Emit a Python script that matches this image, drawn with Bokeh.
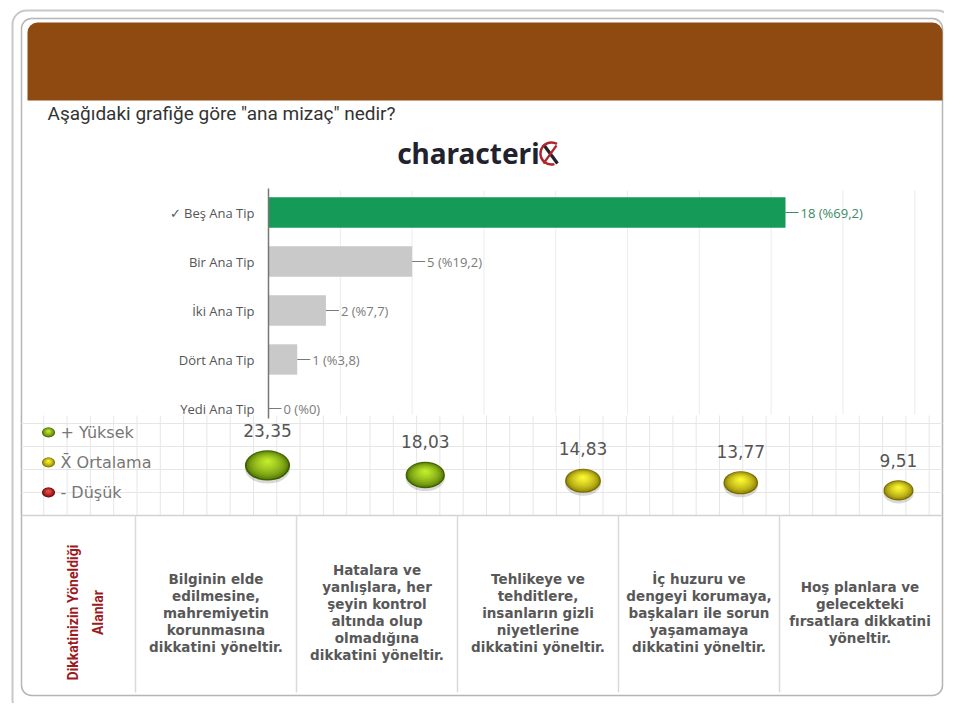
import math
from bokeh.plotting import figure
from bokeh.models import Range1d, BoxAnnotation, ColumnDataSource
from bokeh.embed import file_html
from bokeh.resources import INLINE
from bokeh.core.properties import value

# ---------------- data ----------------
question = 'Aşağıdaki grafiğe göre "ana mizaç" nedir?'
logo_text = "characteri"
bar_categories = ["✓ Beş Ana Tip", "Bir Ana Tip", "İki Ana Tip", "Dört Ana Tip", "Yedi Ana Tip"]
bar_counts = [18, 5, 2, 1, 0]
bar_percents = ["69,2", "19,2", "7,7", "3,8", "0"]
bar_highlight = [True, False, False, False, False]
grid_ticks = [2.5, 5, 7.5, 10, 12.5, 15, 17.5, 20, 22.5]

bubble_values = [23.35, 18.03, 14.83, 13.77, 9.51]
bubble_levels = ["Yüksek", "Yüksek", "Ortalama", "Ortalama", "Ortalama"]
legend_levels = ["Yüksek", "Ortalama", "Düşük"]
legend_labels = ["+ Yüksek", "X\u0304 Ortalama", "- Düşük"]

header_lines = ["Dikkatinizin Yöneldiği", "Alanlar"]
column_texts = [
    ["Bilginin elde", "edilmesine,", "mahremiyetin", "korunmasına", "dikkatini yöneltir."],
    ["Hatalara ve", "yanlışlara, her", "şeyin kontrol", "altında olup", "olmadığına", "dikkatini yöneltir."],
    ["Tehlikeye ve", "tehditlere,", "insanların gizli", "niyetlerine", "dikkatini yöneltir."],
    ["İç huzuru ve", "dengeyi korumaya,", "başkaları ile sorun", "yaşamamaya", "dikkatini yöneltir."],
    ["Hoş planlara ve", "gelecekteki", "fırsatlara dikkatini", "yöneltir."],
]

# ---------------- styles ----------------
level_edge_center = {
    "Yüksek": ("#3f6200", "#c2ec2c"),
    "Ortalama": ("#7a6c00", "#fdf830"),
    "Düşük": ("#6a0000", "#f05050"),
}
BAR_GREEN = "#159a57"
BAR_GRAY = "#c9c9c9"
LABEL_GREEN = "#3b8a64"
LABEL_GRAY = "#7a7a7a"

W, H = 944, 703
X0, X1 = 0, 944
Y_TOP, Y_BOT = 0, 703


def mapped_range(p_a, v_a, p_b, v_b, p_start, p_end):
    k = (v_b - v_a) / (p_b - p_a)
    return Range1d(start=v_a + (p_start - p_a) * k, end=v_a + (p_end - p_a) * k)


def mix(c1, c2, t):
    a = [int(c1[i:i + 2], 16) for i in (1, 3, 5)]
    b = [int(c2[i:i + 2], 16) for i in (1, 3, 5)]
    return "#" + "".join(f"{round(x + (y - x) * t):02x}" for x, y in zip(a, b))


p = figure(width=W, height=H, x_range=Range1d(X0, X1), y_range=Range1d(Y_BOT, Y_TOP),
           x_axis_location=None, y_axis_location=None, toolbar_location=None,
           output_backend="svg", min_border=0, title=None,
           background_fill_color="#ffffff", border_fill_color="#ffffff",
           outline_line_color=None)
p.grid.visible = False
p.extra_x_ranges = {"bars": mapped_range(268, 0, 785, 18, X0, X1),
                    "bub": mapped_range(267, 0, 898, 4, X0, X1)}
p.extra_y_ranges = {"cats": mapped_range(212, 0, 408, 4, Y_BOT, Y_TOP),
                    "bubv": mapped_range(507, 0, 462, 25, Y_BOT, Y_TOP)}
PX_BUBV = 25 / 45.0  # value units per screen pixel in bubble scale

# ---------------- frame decorations ----------------
p.add_layout(BoxAnnotation(left=12, right=951, top=10, bottom=713, fill_color="#ffffff",
                           fill_alpha=1, line_color="#c8c8c8", line_alpha=1, line_width=2,
                           border_radius=14, level="underlay"))
p.add_layout(BoxAnnotation(left=21, right=942, top=18, bottom=695, fill_color=None,
                           fill_alpha=0, line_color="#b5b5b5", line_alpha=1, line_width=1.5,
                           border_radius=10, level="underlay"))
p.add_layout(BoxAnnotation(left=27, right=942, top=22, bottom=100, fill_color="#8f4a11",
                           fill_alpha=1, line_color=None, border_radius=(10, 10, 0, 0),
                           level="underlay"))

# question and logo
p.text(x=[47], y=[113], text=[question], text_font=value("Roboto"), text_font_size="19px",
       text_color="#333333", text_baseline="middle", text_align="left")
p.text(x=[539], y=[152], text=[logo_text], text_font=value("Noto Sans"), text_font_style="bold",
       text_font_size="28px", text_color="#22222e", text_baseline="middle", text_align="right")
p.line(x=[543, 557], y=[144, 163], line_color="#22222e", line_width=3.2)
p.line(x=[543, 556], y=[163, 145], line_color="#b3232a", line_width=2.2)
p.arc(x=[551], y=[153], radius=11, radius_units="screen", start_angle=-1.3, end_angle=1.05,
      direction="clock", line_color="#b3232a", line_width=2.5)

# ---------------- bar chart ----------------
n = len(bar_categories)
bar_src = ColumnDataSource(dict(
    idx=list(range(n)),
    cat=bar_categories,
    count=bar_counts,
    label=[f"{c} (%{pc})" for c, pc in zip(bar_counts, bar_percents)],
    color=[BAR_GREEN if h else BAR_GRAY for h in bar_highlight],
    lcolor=[LABEL_GREEN if h else LABEL_GRAY for h in bar_highlight],
))
p.segment(x0=grid_ticks, x1=grid_ticks, y0=[190] * len(grid_ticks), y1=[414] * len(grid_ticks),
          x_range_name="bars", line_color="#ececec", line_width=1)
p.hbar(y="idx", left=0, right="count", height=0.62, fill_color="color", line_color=None,
       x_range_name="bars", y_range_name="cats", source=bar_src)
p.segment(x0=[0], x1=[0], y0=[188], y1=[418], x_range_name="bars", line_color="#777777",
          line_width=1.5)
p.ray(x="count", y="idx", length=13, length_units="screen", angle=0, line_color="lcolor",
      line_width=1, x_range_name="bars", y_range_name="cats", source=bar_src)
p.text(x="count", y="idx", text="label", x_offset=15, text_align="left", text_baseline="middle",
       text_font=value("Open Sans"), text_font_size="13px", text_color="lcolor",
       x_range_name="bars", y_range_name="cats", source=bar_src)
p.text(x=0, y="idx", text="cat", x_offset=-14, text_align="right", text_baseline="middle",
       text_font=value("Open Sans"), text_font_size="13px", text_color="#555555",
       x_range_name="bars", y_range_name="cats", source=bar_src)

# ---------------- bubble area ----------------
gx = [20 + 23.3 * k for k in range(40)]
p.segment(x0=gx, x1=gx, y0=[415] * len(gx), y1=[515] * len(gx), line_color="#e6e6e6", line_width=1)
gy = [423, 446, 469, 492]
p.segment(x0=[21] * len(gy), x1=[942] * len(gy), y0=gy, y1=gy, line_color="#e6e6e6", line_width=1)

NL = 12
# legend
leg_y = [432, 462, 492]
for yy, lev in zip(leg_y, legend_levels):
    edge, center = level_edge_center[lev]
    for k in range(NL):
        t = k / (NL - 1)
        s = 1 - 0.9 * t
        p.ellipse(x=[48], y=[yy - 1.5 * t], width=13 * s, height=10 * s,
                  width_units="screen", height_units="screen",
                  fill_color=mix(edge, center, t ** 0.7), line_color=None)
p.text(x=[60] * 3, y=leg_y, text=legend_labels, text_font=value("DejaVu Sans"),
       text_font_size="16px", text_color="#777777", text_baseline="middle", text_align="left")

bw = [19.5 + 1.1 * v for v in bubble_values]
bh = [w * 0.67 for w in bw]
nb = len(bubble_values)
bub_src = ColumnDataSource(dict(
    x=list(range(nb)),
    y=bubble_values,
    y_shadow=[v - 3 * PX_BUBV for v in bubble_values],
    w=bw, h=bh,
    label=[f"{v:.2f}".replace(".", ",") for v in bubble_values],
    loff=[-(h / 2 + 20) for h in bh],
))
common = dict(x_range_name="bub", y_range_name="bubv", width_units="screen", height_units="screen")
p.ellipse(x="x", y="y_shadow", width="w", height="h", fill_color="#000000", fill_alpha=0.15,
          line_color=None, source=bub_src, **common)
for k in range(NL):
    t = k / (NL - 1)
    s = 1 - 0.92 * t
    src_k = ColumnDataSource(dict(
        x=list(range(nb)),
        y=[v + 0.14 * t * h * PX_BUBV for v, h in zip(bubble_values, bh)],
        w=[w * s for w in bw],
        h=[h * s for h in bh],
        c=[mix(level_edge_center[l][0], level_edge_center[l][1], t ** 0.55) for l in bubble_levels],
    ))
    p.ellipse(x="x", y="y", width="w", height="h", fill_color="c", line_color=None,
              source=src_k, **common)
p.text(x="x", y="y", text="label", y_offset="loff", text_align="center", text_baseline="middle",
       text_font=value("DejaVu Sans"), text_font_size="17px", text_color="#555555",
       x_range_name="bub", y_range_name="bubv", source=bub_src)

# ---------------- table ----------------
p.segment(x0=[21], x1=[942], y0=[515], y1=[515], line_color="#d2d2d2", line_width=1.5)
div_x = [135, 296, 457, 618, 779]
p.segment(x0=div_x, x1=div_x, y0=[515] * 5, y1=[692] * 5, line_color="#dadada", line_width=1.5)

p.text(x=[72, 97], y=[612, 612], text=header_lines, angle=math.pi / 2, text_align="center",
       text_baseline="middle", text_font=value("Roboto"), text_font_style="bold",
       text_font_size="14px", text_color="#9b1b1e")

tx, ty, tt = [], [], []
for i, lines in enumerate(column_texts):
    cx = 135 + 161 * i + 80.5
    m = len(lines)
    for j, line in enumerate(lines):
        tx.append(cx)
        ty.append(612 + (j - (m - 1) / 2) * 17)
        tt.append(line)
p.text(x=tx, y=ty, text=tt, text_align="center", text_baseline="middle",
       text_font=value("DejaVu Sans"), text_font_style="bold", text_font_size="13.5px",
       text_color="#585858")

open("out.html", "w").write(file_html(p, INLINE))
